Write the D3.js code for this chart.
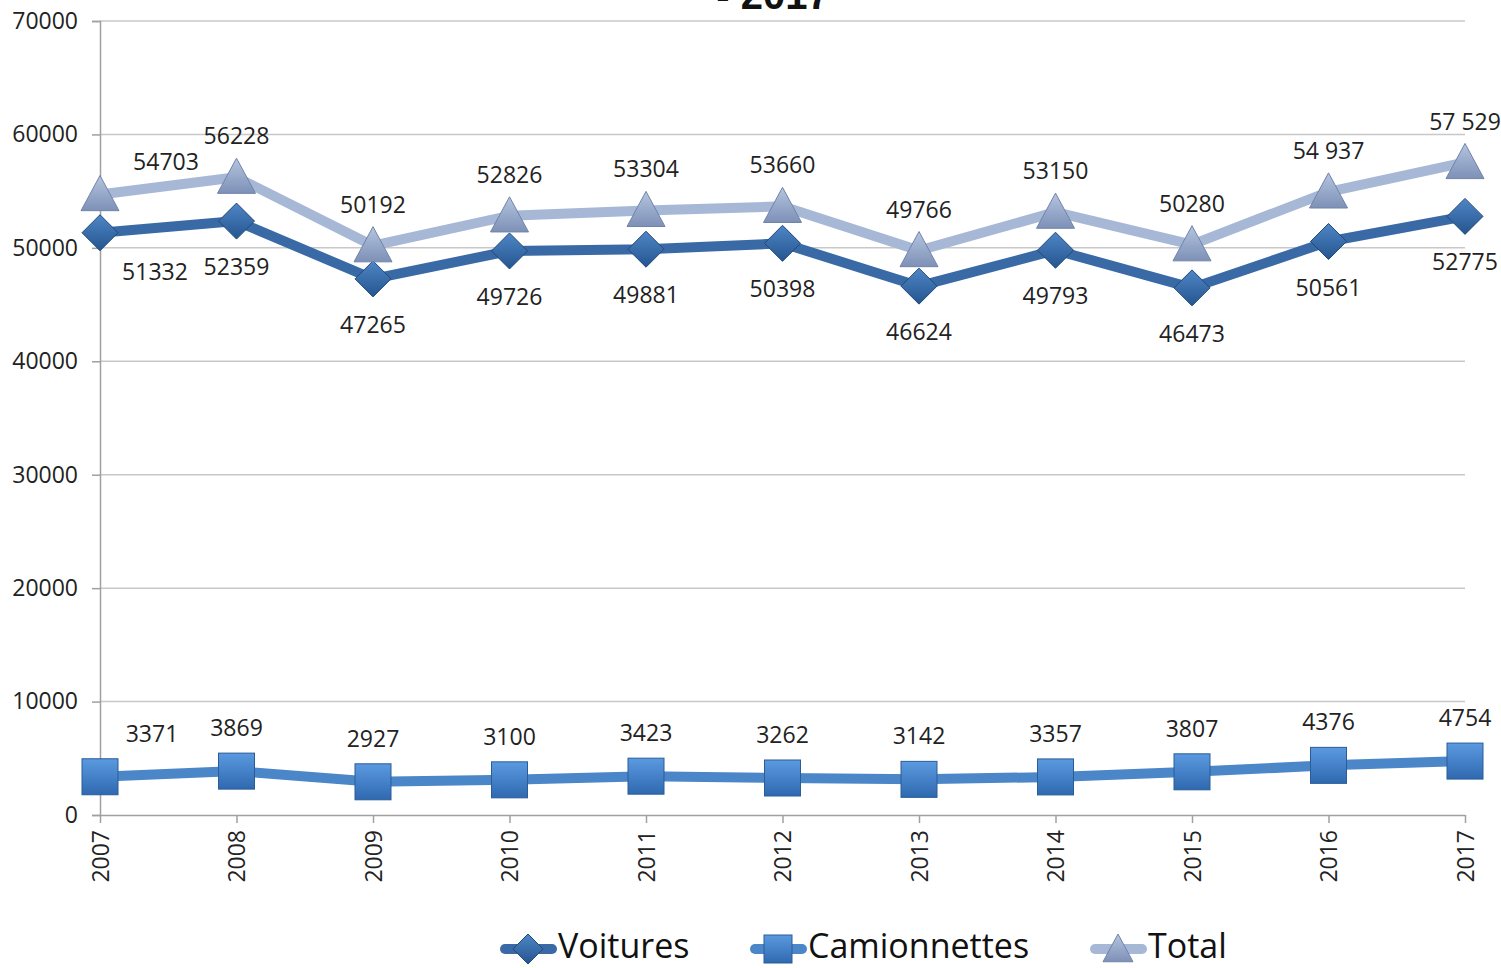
<!DOCTYPE html>
<html><head><meta charset="utf-8">
<script src="https://cdn.jsdelivr.net/npm/d3@7"></script>
<style>body{margin:0;background:#fff}svg{display:block}</style>
</head><body>
<svg id="c" width="1501" height="968"></svg>
<script>
const years = ["2007","2008","2009","2010","2011","2012","2013","2014","2015","2016","2017"];
const voitures = [51332,52359,47265,49726,49881,50398,46624,49793,46473,50561,52775];
const camionnettes = [3371,3869,2927,3100,3423,3262,3142,3357,3807,4376,4754];
const total = [54703,56228,50192,52826,53304,53660,49766,53150,50280,54937,57529];
const totalLabels = ["54703","56228","50192","52826","53304","53660","49766","53150","50280","54 937","57 529"];
const yTicks = [0,10000,20000,30000,40000,50000,60000,70000];
const seriesNames = ["Voitures","Camionnettes","Total"];

const svg = d3.select("#c");
const font = "'Open Sans', sans-serif";
const x = d3.scalePoint().domain(years).range([100,1465]);
const y = d3.scaleLinear().domain([0,70000]).range([815,21]);

const defs = svg.append("defs");
function grad(id, c1, c2){
  const g = defs.append("linearGradient").attr("id",id).attr("x1","0").attr("y1","0").attr("x2","0").attr("y2","1");
  g.append("stop").attr("offset","0").attr("stop-color",c1);
  g.append("stop").attr("offset","1").attr("stop-color",c2);
}
grad("gD","#4f86c6","#24558f");
grad("gS","#5b9ae0","#2f69b0");
grad("gT","#b5c5e0","#7d90b6");

// title fragment (cut off at top, as in the reference)
svg.append("text").attr("x",773).attr("y",9).attr("text-anchor","middle")
  .attr("font-family","'Liberation Sans', Arial, sans-serif").attr("font-weight","bold")
  .attr("font-size",40).attr("fill","#111").text("- 2017");

// gridlines
svg.append("g").selectAll("line").data(yTicks.filter(d=>d>0)).join("line")
  .attr("x1",100).attr("x2",1465).attr("y1",d=>y(d)).attr("y2",d=>y(d))
  .attr("stroke","#c8c8c8").attr("stroke-width",1.5);

// y axis
const ya = svg.append("g").attr("transform","translate(100,0)")
  .call(d3.axisLeft(y).tickValues(yTicks).tickSize(8).tickFormat(d3.format("d")));
ya.select(".domain").attr("stroke","#a0a0a0").attr("stroke-width",1.5);
ya.selectAll(".tick line").attr("stroke","#a0a0a0").attr("stroke-width",1.5);
ya.selectAll("text").attr("font-family",font).attr("font-size",23).attr("fill","#222").attr("x",-22);

// x axis
const xa = svg.append("g").attr("transform","translate(0,815)")
  .call(d3.axisBottom(x).tickSize(8).tickSizeOuter(0));
xa.select(".domain").attr("stroke","#a0a0a0").attr("stroke-width",1.5);
xa.selectAll(".tick line").attr("stroke","#a0a0a0").attr("stroke-width",1.5);
xa.selectAll("text").attr("font-family",font).attr("font-size",23).attr("fill","#222")
  .attr("transform","rotate(-90)").attr("text-anchor","end").attr("x",-15).attr("y",0).attr("dy","0.35em");

const line = d3.line().x((d,i)=>x(years[i])).y(d=>y(d));

function drawLine(data, color){
  svg.append("path").datum(data).attr("d",line).attr("fill","none")
    .attr("stroke",color).attr("stroke-width",10).attr("stroke-linejoin","round");
}
drawLine(camionnettes,"#4a86c8");
drawLine(voitures,"#3a6aa6");
drawLine(total,"#a7b8d7");

function diamond(g, cx, cy, s){
  g.append("path").attr("d",`M${cx},${cy-s}L${cx+s},${cy}L${cx},${cy+s}L${cx-s},${cy}Z`)
    .attr("fill","url(#gD)").attr("stroke","#21497a").attr("stroke-width",1);
}
function square(g, cx, cy, s){
  g.append("rect").attr("x",cx-s).attr("y",cy-s).attr("width",2*s).attr("height",2*s)
    .attr("fill","url(#gS)").attr("stroke","#2a5c98").attr("stroke-width",1);
}
function triangle(g, cx, cy, s){
  g.append("path").attr("d",`M${cx},${cy-s}L${cx+s},${cy+s*0.85}L${cx-s},${cy+s*0.85}Z`)
    .attr("fill","url(#gT)").attr("stroke","#7083a8").attr("stroke-width",1);
}

const mk = svg.append("g");
camionnettes.forEach((v,i)=>square(mk,x(years[i]),y(v),18));
voitures.forEach((v,i)=>diamond(mk,x(years[i]),y(v),18));
total.forEach((v,i)=>triangle(mk,x(years[i]),y(v),19));

// labels
const lab = svg.append("g").attr("font-family",font).attr("font-size",23).attr("fill","#222").attr("text-anchor","middle");
total.forEach((v,i)=>{
  const dx = i===0 ? 66 : 0, dy = i===0 ? -33 : -41;
  lab.append("text").attr("x",x(years[i])+dx).attr("y",y(v)+dy).attr("dy","0.35em").text(totalLabels[i]);
});
voitures.forEach((v,i)=>{
  const dx = i===0 ? 55 : 0, dy = i===0 ? 39 : 46;
  lab.append("text").attr("x",x(years[i])+dx).attr("y",y(v)+dy).attr("dy","0.35em").text(String(v));
});
camionnettes.forEach((v,i)=>{
  const dx = i===0 ? 52 : 0, dy = -43;
  lab.append("text").attr("x",x(years[i])+dx).attr("y",y(v)+dy).attr("dy","0.35em").text(String(v));
});

// legend
const lg = svg.append("g");
const legendX = [500, 750, 1090];
const legendColors = ["#3a6aa6","#4a86c8","#a7b8d7"];
const markers = [diamond, square, triangle];
seriesNames.forEach((n,i)=>{
  const lx = legendX[i], ly = 946;
  lg.append("line").attr("x1",lx+5).attr("x2",lx+52).attr("y1",ly+3).attr("y2",ly+3)
    .attr("stroke",legendColors[i]).attr("stroke-width",10).attr("stroke-linecap","round");
  markers[i](lg, lx+28, ly+3, i===1?14:15);
  lg.append("text").attr("x",lx+58).attr("y",ly).attr("dy","0.34em")
    .attr("font-family",font).attr("font-size",34).attr("fill","#111").text(n);
});
</script>
</body></html>
